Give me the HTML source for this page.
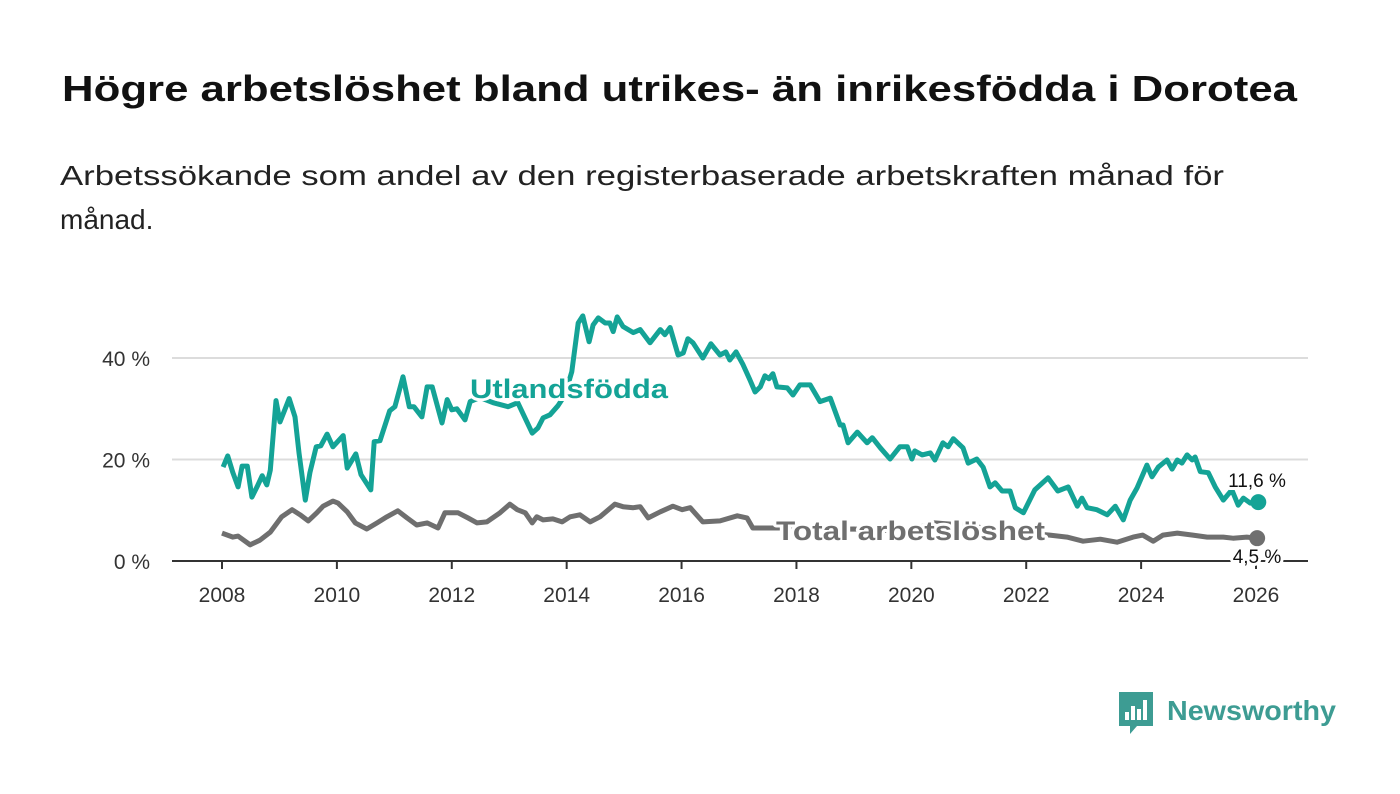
<!DOCTYPE html>
<html><head><meta charset="utf-8"><style>
html,body{margin:0;padding:0;background:#fff;}
svg{display:block;font-family:"Liberation Sans",sans-serif;}
</style></head><body>
<svg id="chart" width="1400" height="794" viewBox="0 0 1400 794">
<text x="62" y="101" font-size="36" font-weight="bold" fill="#111" textLength="1235" lengthAdjust="spacingAndGlyphs">Högre arbetslöshet bland utrikes- än inrikesfödda i Dorotea</text>
<text x="60" y="185" font-size="28" fill="#222" textLength="1164" lengthAdjust="spacingAndGlyphs">Arbetssökande som andel av den registerbaserade arbetskraften månad för</text>
<text x="60" y="229" font-size="28" fill="#222">månad.</text>
<g id="grid"></g><g id="axes"></g><g id="series"></g><g id="labels"></g>
<g>
<path d="M1119 692 h34 v34 h-16 l-7 8 v-8 h-11 z" fill="#3d9c93"/>
<rect x="1125" y="712" width="4" height="8" fill="#fff"/><rect x="1131" y="706" width="4" height="14" fill="#fff"/><rect x="1137" y="709" width="4" height="11" fill="#fff"/><rect x="1143" y="700" width="4" height="20" fill="#fff"/>
<text x="1167" y="720" font-size="28" font-weight="bold" fill="#3d9c93" textLength="169" lengthAdjust="spacingAndGlyphs">Newsworthy</text>
</g>
</svg>
<script>
const xTicks=[2008,2010,2012,2014,2016,2018,2020,2022,2024,2026];
const yTicks=[0,20,40];
const yTickLabels=["0 %","20 %","40 %"];
const foreignDates=[2008.02,2008.10,2008.19,2008.28,2008.35,2008.44,2008.52,2008.61,2008.70,2008.78,2008.84,2008.94,2009.01,2009.08,2009.17,2009.27,2009.34,2009.45,2009.53,2009.64,2009.72,2009.83,2009.93,2010.11,2010.18,2010.33,2010.42,2010.59,2010.65,2010.75,2010.92,2011.01,2011.15,2011.26,2011.34,2011.48,2011.57,2011.66,2011.83,2011.92,2012.00,2012.09,2012.23,2012.32,2012.49,2012.72,2012.98,2013.15,2013.40,2013.50,2013.59,2013.71,2013.85,2013.97,2014.09,2014.20,2014.28,2014.39,2014.46,2014.55,2014.67,2014.75,2014.81,2014.88,2014.98,2015.16,2015.28,2015.45,2015.63,2015.71,2015.80,2015.94,2016.03,2016.11,2016.20,2016.37,2016.51,2016.67,2016.77,2016.84,2016.95,2017.07,2017.19,2017.28,2017.37,2017.45,2017.52,2017.59,2017.66,2017.84,2017.94,2018.06,2018.24,2018.41,2018.59,2018.76,2018.81,2018.90,2019.06,2019.23,2019.32,2019.46,2019.63,2019.80,2019.93,2020.01,2020.06,2020.19,2020.33,2020.41,2020.55,2020.64,2020.73,2020.90,2020.99,2021.14,2021.25,2021.37,2021.46,2021.58,2021.72,2021.81,2021.95,2022.15,2022.38,2022.55,2022.73,2022.89,2022.97,2023.06,2023.23,2023.41,2023.55,2023.69,2023.81,2023.93,2024.10,2024.19,2024.30,2024.45,2024.54,2024.63,2024.71,2024.80,2024.89,2024.94,2025.03,2025.17,2025.29,2025.43,2025.58,2025.69,2025.78,2025.90,2026.04];
const foreignValues=[18.5,20.7,17.4,14.6,18.7,18.7,12.6,14.6,16.8,15.0,17.9,31.6,27.4,29.4,32.0,28.4,21.3,12.0,17.4,22.5,22.7,25.0,22.5,24.7,18.3,21.1,17.0,14.0,23.5,23.7,29.6,30.4,36.3,30.4,30.4,28.4,34.3,34.3,27.2,31.8,29.8,30.0,27.8,31.4,32.2,31.2,30.4,31.2,25.2,26.2,28.2,28.8,30.6,32.7,37.3,46.9,48.3,43.2,46.5,47.9,46.9,46.9,45.2,48.1,46.2,45.0,45.6,43.0,45.6,44.6,46.0,40.6,41.0,43.8,43.0,40.0,42.8,40.6,41.2,39.6,41.2,38.7,35.7,33.3,34.3,36.5,35.9,36.9,34.3,34.1,32.7,34.7,34.7,31.4,32.1,26.8,26.8,23.3,25.4,23.3,24.3,22.3,20.1,22.5,22.5,20.1,21.7,20.9,21.3,19.9,23.3,22.5,24.1,22.3,19.3,20.1,18.5,14.6,15.4,13.8,13.8,10.5,9.5,14.0,16.4,13.8,14.6,10.8,12.4,10.5,10.1,9.1,10.8,8.1,12.0,14.4,18.9,16.6,18.5,19.9,18.1,19.9,19.3,20.9,19.9,20.5,17.6,17.4,14.6,12.0,14.0,11.0,12.4,11.4,11.6];
const totalDates=[2008.00,2008.19,2008.28,2008.49,2008.66,2008.84,2009.04,2009.22,2009.36,2009.50,2009.65,2009.76,2009.93,2010.02,2010.18,2010.32,2010.52,2010.70,2010.87,2011.06,2011.22,2011.39,2011.57,2011.76,2011.88,2012.11,2012.28,2012.44,2012.61,2012.84,2013.01,2013.14,2013.28,2013.40,2013.48,2013.59,2013.76,2013.92,2014.06,2014.23,2014.41,2014.58,2014.84,2014.98,2015.16,2015.28,2015.42,2015.63,2015.85,2016.01,2016.15,2016.37,2016.67,2016.97,2017.14,2017.24,2017.59,2018.0,2018.5,2019.0,2019.5,2020.0,2020.4,2021.0,2021.5,2022.0,2022.41,2022.71,2022.99,2023.29,2023.58,2023.86,2024.03,2024.21,2024.38,2024.63,2024.90,2025.15,2025.43,2025.60,2025.84,2026.02];
const totalValues=[5.5,4.7,4.9,3.2,4.1,5.7,8.7,10.1,9.1,7.9,9.5,10.8,11.8,11.4,9.7,7.5,6.3,7.5,8.7,9.9,8.5,7.1,7.5,6.5,9.5,9.5,8.5,7.5,7.7,9.5,11.2,10.1,9.5,7.5,8.7,8.1,8.3,7.7,8.7,9.1,7.7,8.7,11.2,10.7,10.5,10.7,8.5,9.7,10.8,10.1,10.5,7.7,7.9,8.9,8.5,6.5,6.5,6.5,6.2,6.3,6.0,6.2,7.5,7.0,6.0,5.5,5.1,4.7,3.9,4.3,3.7,4.7,5.1,3.9,5.1,5.5,5.1,4.7,4.7,4.5,4.7,4.5];

const NS='http://www.w3.org/2000/svg';
const X=y=>222+(y-2008)*(1034/18);
const Y=v=>561-v*(203/40);
function mk(tag,attrs,parent,text){const e=document.createElementNS(NS,tag);for(const k in attrs)e.setAttribute(k,attrs[k]);if(text!==undefined)e.textContent=text;parent.appendChild(e);return e;}
const grid=document.getElementById('grid'),axes=document.getElementById('axes'),ser=document.getElementById('series'),lab=document.getElementById('labels');
yTicks.forEach((t,i)=>{
  if(t>0){const g=mk('line',{x1:172,x2:1308,y1:Y(t),y2:Y(t),stroke:'#dcdcdc','stroke-width':2},grid);
  
  }
  const tl=mk('text',{x:150,y:Y(t)+8,'font-size':21,fill:'#333','text-anchor':'end'},axes,yTickLabels[i]);
  
  
});
const ax=mk('line',{x1:172,x2:1308,y1:561,y2:561,stroke:'#333','stroke-width':2},axes);


xTicks.forEach(t=>{
  const tk=mk('line',{x1:X(t),x2:X(t),y1:561,y2:569,stroke:'#333','stroke-width':2},axes);
  
  
  const tl=mk('text',{x:X(t),y:602,'font-size':21,fill:'#333','text-anchor':'middle'},axes,String(t));
  
  
});
function path(d,v){return d.map((x,i)=>(i?'L':'M')+X(x).toFixed(1)+' '+Y(v[i]).toFixed(1)).join(' ');}
const tot=mk('path',{d:path(totalDates,totalValues),fill:'none',stroke:'#6f6f6f','stroke-width':5,'stroke-linejoin':'round'},ser);


const fo=mk('path',{d:path(foreignDates,foreignValues),fill:'none',stroke:'#14a396','stroke-width':5,'stroke-linejoin':'round'},ser);


const fl=foreignDates.length-1,tlI=totalDates.length-1;
const d1=mk('circle',{cx:X(foreignDates[fl]),cy:Y(foreignValues[fl]),r:8,fill:'#14a396'},ser);


const d2=mk('circle',{cx:X(totalDates[tlI]),cy:Y(totalValues[tlI]),r:8,fill:'#6f6f6f'},ser);


function halo(x,y,size,weight,fill,txt,name,anchor,len){
  const a={x:x,y:y,'font-size':size,'font-weight':weight,fill:'#fff',stroke:'#fff','stroke-width':6,'stroke-linejoin':'round','text-anchor':anchor||'start'};
  if(len){a.textLength=len;a.lengthAdjust='spacingAndGlyphs';}
  mk('text',a,lab,txt);
  const b={x:x,y:y,'font-size':size,'font-weight':weight,fill:fill,'text-anchor':anchor||'start'};
  if(len){b.textLength=len;b.lengthAdjust='spacingAndGlyphs';}
  const t=mk('text',b,lab,txt);
  
  
}
halo(470,398,27,'bold','#14a396','Utlandsfödda','foreign-born-series-label','start',198);
halo(776,540,27,'bold','#6f6f6f','Total arbetslöshet','total-series-label','start',269);
halo(1257,487,19,'normal','#111','11,6 %','foreign-born-value-label','middle');
halo(1257,563,19,'normal','#111','4,5 %','total-value-label','middle');
</script>
</body></html>
